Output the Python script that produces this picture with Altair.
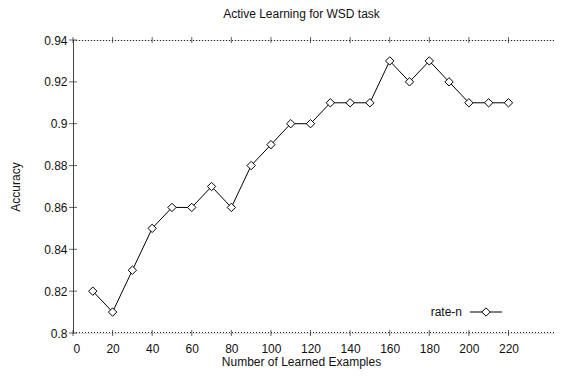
import altair as alt
import pandas as pd

examples = [10, 20, 30, 40, 50, 60, 70, 80, 90, 100, 110, 120, 130, 140, 150, 160, 170, 180, 190, 200, 210, 220]
accuracy = [0.82, 0.81, 0.83, 0.85, 0.86, 0.86, 0.87, 0.86, 0.88, 0.89, 0.90, 0.90, 0.91, 0.91, 0.91, 0.93, 0.92, 0.93, 0.92, 0.91, 0.91, 0.91]
x_ticks = [0, 20, 40, 60, 80, 100, 120, 140, 160, 180, 200, 220]
y_ticks = [0.8, 0.82, 0.84, 0.86, 0.88, 0.9, 0.92, 0.94]
series_name = "rate-n"

W, H = 481, 293
FONT = "Liberation Sans"
TXT = "#111111"

df = pd.DataFrame({"x": examples, "y": accuracy})
xt = pd.DataFrame({"t": x_ticks})
yt = pd.DataFrame({"t": y_ticks})
leg = pd.DataFrame({"label": [series_name]})

xscale = alt.Scale(domain=[0, 243], nice=False, zero=False)
yscale = alt.Scale(domain=[0.8, 0.94], nice=False, zero=False)

xaxis = alt.Axis(values=x_ticks, format="d", grid=False, domain=False, ticks=False,
                 labelPadding=10, labelFontSize=12, labelFont=FONT, labelColor=TXT,
                 title="Number of Learned Examples", titleFontSize=12, titleFont=FONT,
                 titleFontWeight="normal", titleColor=TXT, titleX=228, titleY=28,
                 titleBaseline="middle", titleAlign="center")
yaxis = alt.Axis(values=y_ticks, format="~g", grid=False, domain=True, domainColor="#444444",
                 domainWidth=1, ticks=False, labelPadding=6, labelFontSize=12, labelFont=FONT,
                 labelColor=TXT, title="Accuracy", titleFontSize=12, titleFont=FONT,
                 titleFontWeight="normal", titleColor=TXT, titleX=-58, titleY=H / 2,
                 titleAngle=-90, titleBaseline="middle", titleAlign="center")

base = alt.Chart(df)
line = base.mark_line(color="black", strokeWidth=1).encode(
    x=alt.X("x:Q", scale=xscale, axis=xaxis),
    y=alt.Y("y:Q", scale=yscale, axis=yaxis),
)
pts = base.mark_point(shape="diamond", size=70, filled=False, color="black", fill="white",
                      fillOpacity=1, strokeWidth=1, opacity=1).encode(
    x=alt.X("x:Q", scale=xscale), y=alt.Y("y:Q", scale=yscale))

top_border = alt.Chart(leg).mark_rule(color="#222222", strokeWidth=1, strokeDash=[1, 2]).encode(
    x=alt.value(0), x2=alt.value(W), y=alt.value(0.5))
bot_border = alt.Chart(leg).mark_rule(color="#222222", strokeWidth=1, strokeDash=[1, 2]).encode(
    x=alt.value(0), x2=alt.value(W), y=alt.value(H - 0.5))

top_ticks = alt.Chart(xt).mark_tick(color="#222222", size=6, thickness=1).encode(
    x=alt.X("t:Q", scale=xscale), y=alt.value(0))
bot_ticks = alt.Chart(xt).mark_tick(color="#222222", size=6, thickness=1).encode(
    x=alt.X("t:Q", scale=xscale), y=alt.value(H))
left_ticks = alt.Chart(yt).mark_tick(color="#222222", size=8, thickness=1).encode(
    y=alt.Y("t:Q", scale=yscale), x=alt.value(0))

leg_text = alt.Chart(leg).mark_text(align="right", baseline="middle", fontSize=12, font=FONT,
                                    color=TXT).encode(
    text="label:N", x=alt.value(389), y=alt.value(272))
leg_line = alt.Chart(leg).mark_rule(color="black", strokeWidth=1).encode(
    x=alt.value(397), x2=alt.value(429), y=alt.value(272))
leg_pt = alt.Chart(leg).mark_point(shape="diamond", size=70, filled=False, color="black",
                                   fill="white", fillOpacity=1, strokeWidth=1, opacity=1).encode(
    x=alt.value(413), y=alt.value(272))

chart = alt.layer(
    top_border, bot_border, top_ticks, bot_ticks, left_ticks, line, pts, leg_line, leg_pt, leg_text
).properties(
    width=W, height=H,
    title=alt.TitleParams("Active Learning for WSD task", fontSize=12, font=FONT,
                          fontWeight="normal", color=TXT, anchor="middle", frame="group",
                          dx=-12, offset=13),
    autosize=alt.AutoSizeParams(type="none"),
    padding={"left": 65, "top": 32, "right": 0, "bottom": 36},
).configure_view(strokeWidth=0).configure(background="white")

chart.save("out.html", embed_options={"renderer": "svg", "actions": False})
